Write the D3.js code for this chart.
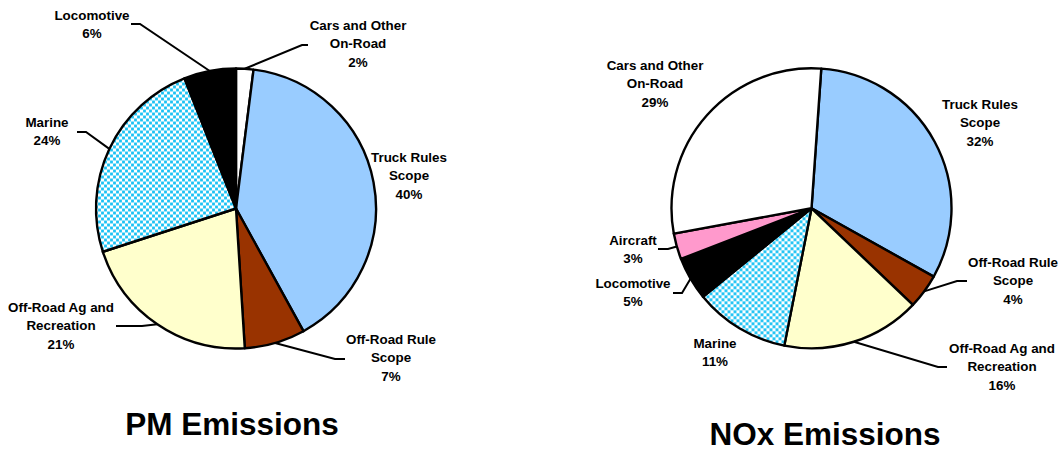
<!DOCTYPE html>
<html>
<head>
<meta charset="utf-8">
<script src="https://cdn.jsdelivr.net/npm/d3@7"></script>
<style>
  html, body { margin: 0; padding: 0; background: #fff; }
  svg { display: block; }
  text { font-family: "Liberation Sans", Arial, sans-serif; font-weight: bold; fill: #000; }
</style>
</head>
<body>
<svg id="chart" width="1061" height="451"></svg>
<script>
// ---- Data ----
const pmCategories  = ["Cars and Other On-Road", "Truck Rules Scope", "Off-Road Rule Scope",
                       "Off-Road Ag and Recreation", "Marine", "Locomotive"];
const pmValues      = [2, 40, 7, 21, 24, 6];

const noxCategories = ["Truck Rules Scope", "Off-Road Rule Scope", "Off-Road Ag and Recreation",
                       "Marine", "Locomotive", "Aircraft", "Cars and Other On-Road"];
const noxValues     = [32, 4, 16, 11, 5, 3, 29];

const titles = ["PM Emissions", "NOx Emissions"];

// Label text lines per category (value line appended from data)
const labelLines = {
  "Cars and Other On-Road": ["Cars and Other", "On-Road"],
  "Truck Rules Scope": ["Truck Rules", "Scope"],
  "Off-Road Rule Scope": ["Off-Road Rule", "Scope"],
  "Off-Road Ag and Recreation": ["Off-Road Ag and", "Recreation"],
  "Marine": ["Marine"],
  "Locomotive": ["Locomotive"],
  "Aircraft": ["Aircraft"]
};

// ---- Styling ----
const fills = {
  "Cars and Other On-Road": "#ffffff",
  "Truck Rules Scope": "#99ccff",
  "Off-Road Rule Scope": "#993300",
  "Off-Road Ag and Recreation": "#ffffcc",
  "Marine": "url(#dots)",
  "Locomotive": "#000000",
  "Aircraft": "#ff99cc"
};

// ---- Layout ----
const R = 140;
const lineH = 18.5;
const pies = [
  { cx: 236, cy: 208.5, start: 0, categories: pmCategories, values: pmValues,
    title: { x: 232, y: 435 },
    // label block: x center, y of first line center; leader: elbow + end (null = no leader)
    labels: {
      "Cars and Other On-Road": { x: 358, y: 25, elbow: [302, 45], end: [308, 45] },
      "Truck Rules Scope": { x: 409, y: 157 },
      "Off-Road Rule Scope": { x: 391, y: 339, elbow: [335, 359], end: [345, 359] },
      "Off-Road Ag and Recreation": { x: 61, y: 307, elbow: [142, 326], end: [116, 326] },
      "Marine": { x: 47, y: 122, elbow: [86, 132], end: [77, 132] },
      "Locomotive": { x: 92, y: 15, elbow: [140, 24], end: [131, 24] }
    } },
  { cx: 811.5, cy: 208.3, start: 4 * Math.PI / 180, categories: noxCategories, values: noxValues,
    title: { x: 825, y: 445 },
    labels: {
      "Truck Rules Scope": { x: 980, y: 104 },
      "Off-Road Rule Scope": { x: 1013, y: 262, elbow: [957, 281], end: [967, 281] },
      "Off-Road Ag and Recreation": { x: 1002, y: 348, elbow: [938, 367], end: [947, 367] },
      "Marine": { x: 715, y: 343 },
      "Locomotive": { x: 633, y: 283, elbow: [682, 293], end: [673, 293] },
      "Aircraft": { x: 633, y: 240, elbow: [668, 249], end: [658, 249] },
      "Cars and Other On-Road": { x: 655, y: 65 }
    } }
];

const svg = d3.select("#chart");

// dotted fill for the marine slices
const defs = svg.append("defs");
const pat = defs.append("pattern")
  .attr("id", "dots").attr("patternUnits", "userSpaceOnUse")
  .attr("width", 6).attr("height", 6);
pat.append("rect").attr("width", 6).attr("height", 6).attr("fill", "#ffffff");
pat.append("rect").attr("x", 0.1).attr("y", 0.1).attr("width", 2.8).attr("height", 2.8).attr("fill", "#0fbff3");
pat.append("rect").attr("x", 3.1).attr("y", 3.1).attr("width", 2.8).attr("height", 2.8).attr("fill", "#0fbff3");

const arc = d3.arc().innerRadius(0).outerRadius(R);

pies.forEach((p, pi) => {
  const pie = d3.pie().sort(null).value(d => d.value)
    .startAngle(p.start).endAngle(p.start + 2 * Math.PI);
  const rows = p.categories.map((c, i) => ({ category: c, value: p.values[i] }));
  const arcs = pie(rows);

  const g = svg.append("g").attr("transform", `translate(${p.cx},${p.cy})`);

  g.selectAll("path.slice")
    .data(arcs)
    .join("path")
    .attr("class", "slice")
    .attr("d", arc)
    .attr("fill", d => fills[d.data.category])
    .attr("stroke", "#000")
    .attr("stroke-width", 2.4)
    .attr("stroke-linejoin", "round");

  // leader lines from slice mid-angle on the rim
  arcs.forEach(d => {
    const L = p.labels[d.data.category];
    if (!L || !L.elbow) return;
    const mid = (d.startAngle + d.endAngle) / 2;
    const rim = [p.cx + R * Math.sin(mid), p.cy - R * Math.cos(mid)];
    svg.append("polyline")
      .attr("points", [rim, L.elbow, L.end].map(q => q.join(",")).join(" "))
      .attr("fill", "none")
      .attr("stroke", "#000")
      .attr("stroke-width", 2);
  });

  // labels
  arcs.forEach(d => {
    const L = p.labels[d.data.category];
    const lines = labelLines[d.data.category].concat([d.data.value + "%"]);
    const t = svg.append("text")
      .attr("text-anchor", "middle")
      .attr("font-size", 13.4);
    lines.forEach((s, i) => {
      t.append("tspan")
        .attr("x", L.x)
        .attr("y", L.y + i * lineH + 4.7)
        .text(s);
    });
  });

  svg.append("text")
    .attr("x", p.title.x).attr("y", p.title.y)
    .attr("text-anchor", "middle")
    .attr("font-size", 31.5)
    .text(titles[pi]);
});
</script>
</body>
</html>
